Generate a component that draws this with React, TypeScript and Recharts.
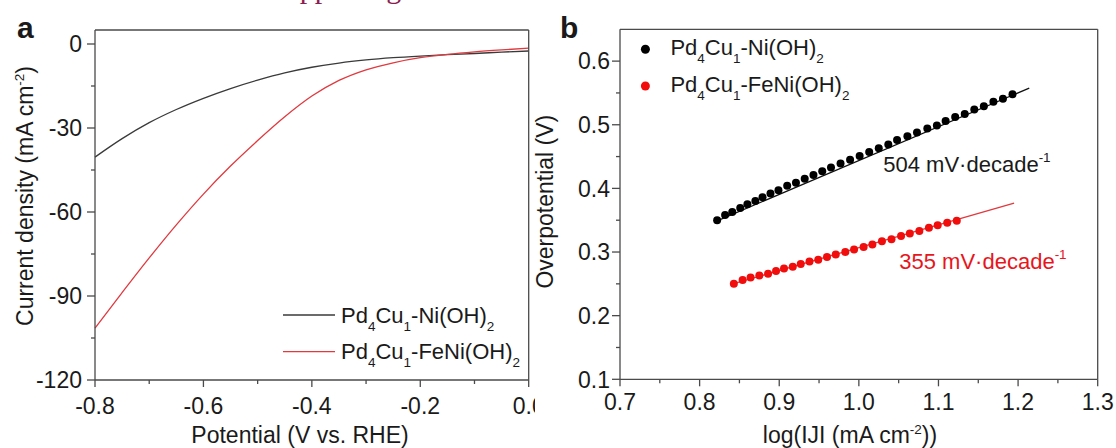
import React from 'react';
import { LineChart, Line, ComposedChart, Scatter, XAxis, YAxis } from 'recharts';

// panel a: polarisation curves
const potential = [-0.8, -0.75, -0.7, -0.65, -0.6, -0.55, -0.5, -0.45, -0.4, -0.35, -0.3, -0.25, -0.2, -0.15, -0.1, -0.05, 0];
const niCurrent = [-40.4, -33.8, -28.1, -23.4, -19.4, -15.9, -12.9, -10.3, -8.3, -6.8, -5.7, -4.9, -4.3, -3.8, -3.4, -2.9, -2.5];
const feNiCurrent = [-101.5, -88.8, -76.4, -64.6, -53.6, -43.6, -34.5, -26.0, -18.6, -13.0, -9.2, -6.7, -4.9, -3.7, -2.8, -2.1, -1.5];

const potentialTicks = [-0.8, -0.7, -0.6, -0.5, -0.4, -0.3, -0.2, -0.1, 0];
const potentialLabels = [-0.8, -0.6, -0.4, -0.2, 0];
const currentTicks = [-120, -105, -90, -75, -60, -45, -30, -15, 0];
const currentLabels = [-120, -90, -60, -30, 0];

// panel b: Tafel plots
const niLogJ = [0.822, 0.832, 0.841, 0.851, 0.86, 0.87, 0.879, 0.889, 0.899, 0.91, 0.921, 0.932, 0.943, 0.954, 0.965, 0.977, 0.989, 1.001, 1.013, 1.025, 1.037, 1.048, 1.061, 1.073, 1.086, 1.098, 1.109, 1.121, 1.133, 1.145, 1.157, 1.169, 1.181, 1.193];
const niEta = [0.35, 0.358, 0.363, 0.369, 0.375, 0.38, 0.386, 0.392, 0.397, 0.404, 0.409, 0.415, 0.421, 0.427, 0.433, 0.439, 0.445, 0.451, 0.457, 0.463, 0.469, 0.476, 0.482, 0.488, 0.494, 0.499, 0.506, 0.512, 0.517, 0.524, 0.529, 0.536, 0.541, 0.548];
const feNiLogJ = [0.843, 0.854, 0.864, 0.875, 0.886, 0.896, 0.906, 0.917, 0.927, 0.938, 0.949, 0.96, 0.971, 0.983, 0.994, 1.006, 1.017, 1.029, 1.041, 1.053, 1.064, 1.076, 1.088, 1.099, 1.111, 1.123];
const feNiEta = [0.25, 0.256, 0.26, 0.263, 0.266, 0.27, 0.274, 0.277, 0.281, 0.285, 0.288, 0.292, 0.296, 0.3, 0.304, 0.308, 0.312, 0.317, 0.32, 0.325, 0.329, 0.333, 0.338, 0.342, 0.346, 0.349];
const niFitLogJ = [0.822, 1.214];
const niFitEta = [0.349, 0.5576];
const feNiFitLogJ = [0.843, 1.195];
const feNiFitEta = [0.2505, 0.3767];

const logJTicks = [0.7, 0.75, 0.8, 0.85, 0.9, 0.95, 1.0, 1.05, 1.1, 1.15, 1.2, 1.25, 1.3];
const logJLabels = [0.7, 0.8, 0.9, 1.0, 1.1, 1.2, 1.3];
const etaTicks = [0.1, 0.15, 0.2, 0.25, 0.3, 0.35, 0.4, 0.45, 0.5, 0.55, 0.6];
const etaLabels = [0.1, 0.2, 0.3, 0.4, 0.5, 0.6];

const FONT = '"Liberation Sans", Arial, sans-serif';
const FS = 23;
const LEGEND_FS = 22;
const AXIS = '#4a4a4a';
const INK = '#1a1a1a';
const RED_LINE = '#e0393e';
const RED_DOT = '#f20d0d';
const RED_TEXT = '#e8151b';

const isMajor = (labels: number[], v: number) => labels.some((l) => Math.abs(l - v) < 1e-6);

function xTick(labels: number[], digits: number, offset: number) {
  return (props: any) => {
    const { x, y, payload } = props;
    const major = isMajor(labels, payload.value);
    return (
      <g>
        <line x1={x} y1={y} x2={x} y2={y + (major ? 7 : 4)} stroke={AXIS} strokeWidth={1.3} />
        {major && (
          <text x={x} y={y + offset} textAnchor="middle" fontSize={FS} fill={INK} fontFamily={FONT}>
            {Number(payload.value).toFixed(digits)}
          </text>
        )}
      </g>
    );
  };
}

function yTick(labels: number[], digits: number, offset: number) {
  return (props: any) => {
    const { x, y, payload } = props;
    const major = isMajor(labels, payload.value);
    return (
      <g>
        <line x1={x - (major ? 8 : 4)} y1={y} x2={x} y2={y} stroke={AXIS} strokeWidth={1.3} />
        {major && (
          <text x={x - offset} y={y} dy="0.36em" textAnchor="end" fontSize={FS} fill={INK} fontFamily={FONT}>
            {Number(payload.value).toFixed(digits)}
          </text>
        )}
      </g>
    );
  };
}

const frame = { stroke: AXIS, strokeWidth: 1.3 };

function PolarizationPanel() {
  const data = potential.map((v, i) => ({ v, ni: niCurrent[i], feni: feNiCurrent[i] }));
  return (
    <LineChart width={545} height={448} data={data} margin={{ top: 29, right: 15.3, bottom: 18, left: 35 }}>
      <XAxis
        dataKey="v"
        type="number"
        domain={[-0.8, 0]}
        ticks={potentialTicks}
        interval={0}
        height={50}
        tickSize={0}
        tickMargin={0}
        tickLine={false}
        axisLine={frame}
        tick={xTick(potentialLabels, 1, 34)}
      />
      <XAxis xAxisId="top" orientation="top" type="number" domain={[-0.8, 0]} height={1} tick={false} tickLine={false} axisLine={frame} />
      <YAxis
        type="number"
        domain={[-120, 5]}
        allowDataOverflow
        ticks={currentTicks}
        interval={0}
        width={60}
        tickSize={0}
        tickMargin={0}
        tickLine={false}
        axisLine={frame}
        tick={yTick(currentLabels, 0, 13)}
      />
      <YAxis yAxisId="right" orientation="right" type="number" domain={[-120, 5]} width={1} tick={false} tickLine={false} axisLine={frame} />
      <Line type="monotone" dataKey="ni" stroke="#3a3a3a" strokeWidth={1.3} dot={false} isAnimationActive={false} />
      <Line type="monotone" dataKey="feni" stroke={RED_LINE} strokeWidth={1.3} dot={false} isAnimationActive={false} />
    </LineChart>
  );
}

function TafelPanel() {
  const ni = niLogJ.map((x, i) => ({ x, y: niEta[i] }));
  const feNi = feNiLogJ.map((x, i) => ({ x, y: feNiEta[i] }));
  const niFit = niFitLogJ.map((x, i) => ({ x, y: niFitEta[i] }));
  const feNiFit = feNiFitLogJ.map((x, i) => ({ x, y: feNiFitEta[i] }));
  const dot = (fill: string) => (p: any) => <circle cx={p.cx} cy={p.cy} r={4} fill={fill} />;
  return (
    <ComposedChart width={581} height={448} margin={{ top: 28.3, right: 17.3, bottom: 18.7, left: 25 }}>
      <XAxis
        dataKey="x"
        type="number"
        domain={[0.7, 1.3]}
        ticks={logJTicks}
        interval={0}
        height={50}
        tickSize={0}
        tickMargin={0}
        tickLine={false}
        axisLine={frame}
        tick={xTick(logJLabels, 1, 31)}
      />
      <XAxis xAxisId="top" orientation="top" type="number" domain={[0.7, 1.3]} height={1} tick={false} tickLine={false} axisLine={frame} />
      <YAxis
        dataKey="y"
        type="number"
        domain={[0.1, 0.65]}
        allowDataOverflow
        ticks={etaTicks}
        interval={0}
        width={60}
        tickSize={0}
        tickMargin={0}
        tickLine={false}
        axisLine={frame}
        tick={yTick(etaLabels, 1, 10)}
      />
      <YAxis yAxisId="right" orientation="right" type="number" domain={[0.1, 0.65]} width={1} tick={false} tickLine={false} axisLine={frame} />
      <Scatter data={niFit} line={{ stroke: '#111', strokeWidth: 1.3 }} shape={() => <g />} isAnimationActive={false} />
      <Scatter data={feNiFit} line={{ stroke: RED_LINE, strokeWidth: 1.3 }} shape={() => <g />} isAnimationActive={false} />
      <Scatter data={ni} shape={dot('#000')} isAnimationActive={false} />
      <Scatter data={feNi} shape={dot(RED_DOT)} isAnimationActive={false} />
    </ComposedChart>
  );
}

// chemical formula with subscripts
function Formula({ parts }: { parts: [string, string][] }) {
  return (
    <>
      {parts.map(([main, sub], i) => (
        <React.Fragment key={i}>
          <tspan dy={i === 0 ? 0 : -8}>{main}</tspan>
          {sub && <tspan fontSize={13.5} dy={8}>{sub}</tspan>}
        </React.Fragment>
      ))}
    </>
  );
}

const niName: [string, string][] = [['Pd', '4'], ['Cu', '1'], ['-Ni(OH)', '2']];
const feNiName: [string, string][] = [['Pd', '4'], ['Cu', '1'], ['-FeNi(OH)', '2']];

function Overlay() {
  return (
    <svg width={1116} height={448} style={{ position: 'absolute', left: 0, top: 0, pointerEvents: 'none' }} fontFamily={FONT} fill={INK}>
      <text x={268} y={-2.5} fontFamily='"Liberation Serif", serif' fontSize={30} fill="#8c1d50">Supporting</text>
      <text x={17} y={38} fontSize={30} fontWeight="bold">a</text>
      <text x={560} y={38} fontSize={30} fontWeight="bold">b</text>

      <text transform="translate(33,196) rotate(-90)" textAnchor="middle" fontSize={FS}>
        Current density (mA cm<tspan fontSize={13.5} dy={-9}>-2</tspan><tspan dy={9}>)</tspan>
      </text>
      <text x={300} y={442.5} textAnchor="middle" fontSize={FS}>Potential (V vs. RHE)</text>

      <line x1={283} y1={315} x2={335} y2={315} stroke="#3a3a3a" strokeWidth={1.3} />
      <text x={341} y={323} fontSize={LEGEND_FS}><Formula parts={niName} /></text>
      <line x1={283} y1={351.7} x2={335} y2={351.7} stroke={RED_LINE} strokeWidth={1.3} />
      <text x={341} y={359.3} fontSize={LEGEND_FS}><Formula parts={feNiName} /></text>

      <text transform="translate(553,201.7) rotate(-90)" textAnchor="middle" fontSize={FS}>Overpotential (V)</text>
      <text x={850} y={442.5} textAnchor="middle" fontSize={FS}>
        log(IJI (mA cm<tspan fontSize={13.5} dy={-9}>-2</tspan><tspan dy={9}>))</tspan>
      </text>

      <circle cx={645.4} cy={49.3} r={4.5} fill="#000" />
      <text x={670.4} y={55} fontSize={LEGEND_FS}><Formula parts={niName} /></text>
      <circle cx={645.4} cy={86} r={4.5} fill={RED_DOT} />
      <text x={670.4} y={91.7} fontSize={LEGEND_FS}><Formula parts={feNiName} /></text>

      <text x={883.3} y={171.7} fontSize={LEGEND_FS}>
        504 mV·decade<tspan fontSize={13.5} dy={-10}>-1</tspan>
      </text>
      <text x={899.3} y={269} fontSize={LEGEND_FS} fill={RED_TEXT}>
        355 mV·decade<tspan fontSize={13.5} dy={-10}>-1</tspan>
      </text>
    </svg>
  );
}

export default function App() {
  return (
    <div style={{ position: 'absolute', left: 0, top: 0, width: 1116, height: 448, background: '#fff', fontFamily: FONT, overflow: 'hidden' }}>
      <div style={{ position: 'absolute', left: 0, top: 0 }}>
        <PolarizationPanel />
      </div>
      <div style={{ position: 'absolute', left: 535, top: 0, width: 581, height: 448, background: '#fff' }}>
        <TafelPanel />
      </div>
      <Overlay />
    </div>
  );
}
